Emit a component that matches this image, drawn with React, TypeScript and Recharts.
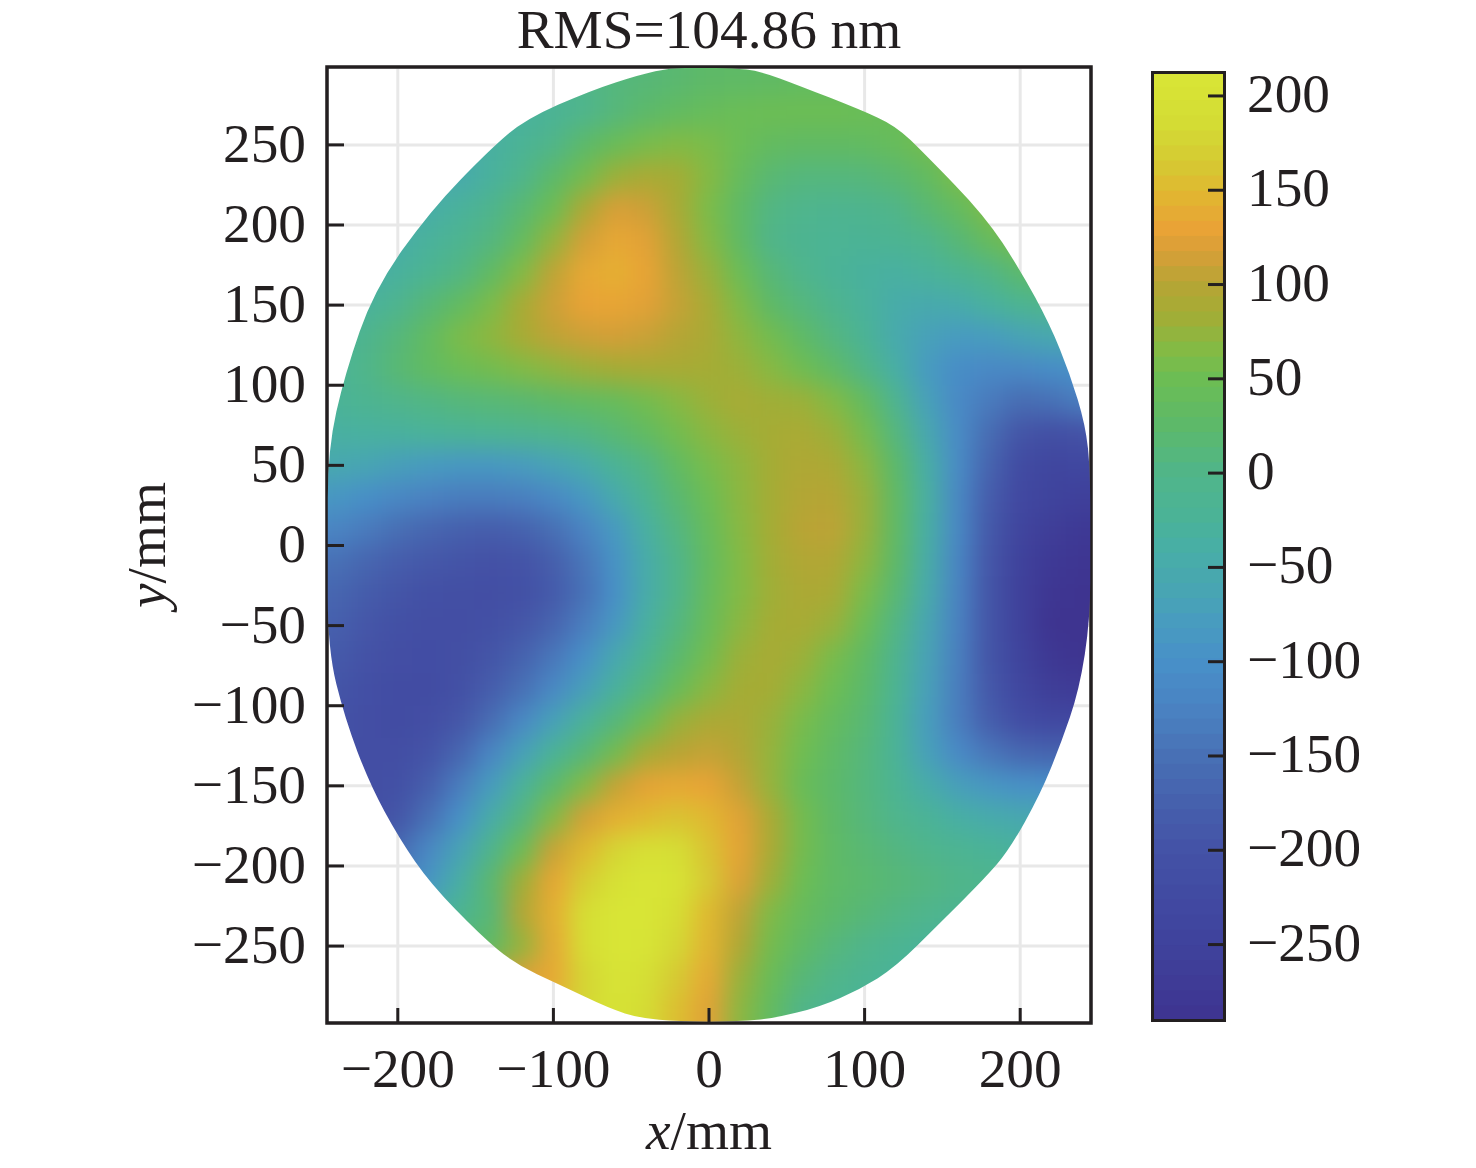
import React from "react";
import {
  ScatterChart,
  Scatter,
  XAxis,
  YAxis,
  CartesianGrid,
  ReferenceArea,
} from "recharts";

const INK = "#231f20";
const FONT = '"Liberation Serif", "Times New Roman", serif';
const FONT_SIZE = 55.3;

const xTicks = [-200, -100, 0, 100, 200];
const yTicks = [-250, -200, -150, -100, -50, 0, 50, 100, 150, 200, 250];
const barTicks = [-250, -200, -150, -100, -50, 0, 50, 100, 150, 200];

// grid centres in mm, surface height in nm
const gridX = [-240, -220, -200, -180, -160, -140, -120, -100, -80, -60, -40, -20, 0, 20, 40, 60, 80, 100, 120, 140, 160, 180, 200, 220, 240];
const gridY = [290, 270, 250, 230, 210, 190, 170, 150, 130, 110, 90, 70, 50, 30, 10, -10, -30, -50, -70, -90, -110, -130, -150, -170, -190, -210, -230, -250, -270, -290];
const heights = [
  [-30, -30, -30, -30, -30, -30, -20, -10, 0, 10, 15, 20, 28, 30, 32, 35, 35, 35, 35, 35, 35, 35, 35, 35, 35],
  [-40, -40, -40, -40, -40, -40, -30, -20, -5, 12, 25, 35, 42, 48, 50, 50, 50, 48, 45, 45, 45, 45, 45, 45, 45],
  [-50, -50, -50, -50, -45, -35, -20, 0, 25, 45, 58, 65, 60, 48, 36, 33, 33, 35, 42, 55, 60, 60, 60, 60, 60],
  [-55, -55, -55, -55, -50, -30, -5, 25, 55, 80, 90, 85, 66, 40, 18, 10, 10, 12, 20, 35, 60, 65, 65, 65, 65],
  [-55, -55, -50, -42, -28, -8, 18, 50, 92, 118, 112, 88, 60, 30, 5, -5, -10, -8, 0, 18, 38, 62, 75, 75, 75],
  [-55, -50, -42, -28, -12, 8, 38, 75, 115, 135, 125, 98, 66, 32, 0, -12, -18, -20, -15, -5, 15, 40, 58, 65, 65],
  [-50, -42, -30, -15, 5, 32, 65, 105, 135, 142, 130, 104, 78, 48, 14, -5, -22, -30, -35, -28, -15, 2, 22, 35, 35],
  [-40, -28, -10, 15, 35, 60, 88, 112, 130, 132, 125, 108, 88, 62, 28, 10, -8, -28, -45, -52, -48, -32, -15, -2, 5],
  [-25, -8, 12, 35, 60, 72, 88, 105, 112, 115, 110, 100, 90, 72, 55, 30, 8, -20, -50, -70, -80, -78, -65, -55, -50],
  [-18, -2, 18, 35, 48, 55, 64, 72, 80, 85, 88, 88, 85, 80, 68, 52, 30, 2, -38, -80, -105, -112, -112, -105, -100],
  [-22, -12, -2, 5, 12, 16, 20, 28, 35, 42, 55, 68, 80, 88, 82, 80, 65, 38, -10, -70, -110, -135, -155, -148, -130],
  [-35, -32, -30, -26, -22, -16, -10, -4, 5, 18, 35, 55, 70, 80, 86, 90, 80, 56, 10, -55, -108, -155, -195, -210, -200],
  [-55, -62, -72, -80, -85, -85, -78, -65, -48, -22, 5, 35, 58, 72, 85, 94, 92, 70, 25, -40, -108, -168, -222, -238, -235],
  [-88, -102, -115, -125, -132, -132, -128, -112, -85, -50, -15, 20, 50, 70, 85, 98, 100, 78, 32, -35, -112, -180, -230, -245, -255],
  [-120, -135, -152, -165, -175, -180, -172, -152, -122, -82, -35, 8, 42, 68, 85, 102, 104, 78, 32, -38, -112, -188, -240, -262, -275],
  [-148, -165, -180, -190, -197, -202, -198, -178, -142, -95, -45, 0, 38, 65, 84, 96, 96, 72, 28, -42, -118, -192, -250, -275, -285],
  [-165, -182, -195, -205, -210, -212, -205, -185, -148, -100, -45, 0, 40, 65, 82, 92, 90, 60, 18, -48, -122, -195, -252, -285, -295],
  [-175, -192, -205, -212, -212, -205, -192, -168, -130, -85, -35, 8, 45, 70, 85, 88, 78, 48, 5, -60, -125, -195, -250, -290, -298],
  [-185, -200, -212, -215, -210, -195, -172, -140, -100, -55, -15, 22, 55, 80, 88, 80, 58, 32, -8, -65, -128, -195, -245, -280, -292],
  [-195, -208, -218, -218, -205, -180, -150, -112, -72, -30, 10, 45, 70, 85, 85, 70, 50, 25, -15, -70, -130, -190, -235, -262, -270],
  [-200, -212, -218, -212, -192, -155, -112, -70, -28, 12, 50, 78, 92, 92, 78, 58, 38, 18, -22, -75, -130, -178, -215, -230, -230],
  [-205, -212, -212, -198, -165, -118, -70, -25, 15, 55, 88, 102, 108, 98, 75, 52, 30, 12, -22, -70, -110, -140, -162, -170, -170],
  [-205, -210, -205, -178, -132, -78, -28, 22, 65, 108, 128, 135, 130, 108, 75, 45, 25, 10, -15, -45, -72, -88, -98, -100, -100],
  [-200, -205, -195, -150, -100, -45, 8, 65, 115, 140, 152, 160, 150, 125, 90, 55, 28, 12, -5, -22, -38, -48, -55, -60, -60],
  [-190, -180, -160, -115, -65, -8, 48, 110, 150, 178, 198, 192, 160, 128, 90, 55, 30, 18, 8, -4, -14, -24, -30, -30, -30],
  [-170, -160, -135, -90, -40, 20, 82, 132, 170, 200, 212, 205, 165, 122, 80, 50, 30, 22, 15, 8, 0, -5, -10, -10, -10],
  [-100, -90, -70, -40, -15, 15, 98, 140, 190, 212, 212, 190, 150, 105, 62, 40, 25, 15, 5, -5, -12, -15, -15, -15, -15],
  [-50, -40, -20, 0, 20, 30, 75, 135, 190, 212, 208, 180, 145, 95, 55, 30, 12, -2, -15, -25, -30, -30, -30, -30, -30],
  [0, 10, 30, 50, 70, 100, 120, 135, 178, 208, 195, 165, 135, 78, 45, 15, 0, -15, -25, -30, -35, -35, -35, -35, -35],
  [50, 60, 70, 85, 100, 120, 135, 150, 180, 205, 185, 155, 125, 70, 35, 0, -15, -25, -30, -35, -35, -35, -35, -35, -35],
];

// wafer outline, clockwise from the top
const outlineX = [-44, -25, -6, 15, 33, 58, 97, 120, 139, 177, 200, 219, 232, 242, 245, 245, 245, 238, 226, 213, 193, 177, 148, 120, 97, 71, 42, 20, -20, -44, -64, -96, -125, -147, -179, -199, -218, -234, -245, -245, -245, -234, -215, -179, -141, -118, -76];
const outlineY = [294, 298, 298, 298, 296, 287, 272, 262, 244, 206, 172, 138, 107, 75, 47, 0, -46, -90, -124, -155, -190, -208, -236, -263, -277, -288, -295, -297, -297, -295, -289, -274, -261, -243, -211, -183, -149, -108, -65, 0, 60, 107, 160, 209, 247, 266, 284];

const barLevels = [-286, -278, -270, -262, -254, -246, -238, -230, -222, -214, -206, -198, -190, -182, -174, -166, -158, -150, -142, -134, -126, -118, -110, -102, -94, -86, -78, -70, -62, -54, -46, -38, -30, -22, -14, -6, 2, 10, 18, 26, 34, 42, 50, 58, 66, 74, 82, 90, 98, 106, 114, 122, 130, 138, 146, 154, 162, 170, 178, 186, 194, 202, 209];

const colorValues = [-290, -250, -225, -200, -175, -150, -125, -100, -80, -60, -40, -25, 0, 25, 50, 65, 85, 100, 118, 130, 150, 165, 185, 212];
const colorStops = ["#3e3490", "#3f429c", "#414aa2", "#4452a6", "#4660ad", "#4870b5", "#4a82c2", "#4890c8", "#489bc0", "#48a6b2", "#48aea6", "#4ab398", "#50b58a", "#5cb96a", "#6cbd54", "#82bb45", "#a5ac35", "#b5a535", "#d99e38", "#e9a336", "#e0b830", "#d5c933", "#d4dc34", "#d8e536"];

const cells = heights.flatMap((row, r) => row.map((v, c) => ({ x: gridX[c], y: gridY[r], v })));
const outline = outlineX.map((x, i) => ({ x, y: outlineY[i] }));
const barData = barLevels.map((v) => ({ x: 0, y: v, v }));

function hex(c: string) {
  return [1, 3, 5].map((i) => parseInt(c.slice(i, i + 2), 16));
}

function colorFor(v: number) {
  let i = 0;
  while (i < colorValues.length - 2 && v > colorValues[i + 1]) i++;
  const t = Math.min(1, Math.max(0, (v - colorValues[i]) / (colorValues[i + 1] - colorValues[i])));
  const a = hex(colorStops[i]);
  const b = hex(colorStops[i + 1]);
  return `rgb(${a.map((p, k) => Math.round(p + (b[k] - p) * t)).join(",")})`;
}

const minus = (v: number) => String(v).replace("-", "\u2212");

function XTick({ x, y, payload }: any) {
  return (
    <g>
      <line x1={x} x2={x} y1={y} y2={y - 15} stroke={INK} strokeWidth={3} />
      <text x={x} y={y + 64} textAnchor="middle" fontFamily={FONT} fontSize={FONT_SIZE} fill={INK}>
        {minus(payload.value)}
      </text>
    </g>
  );
}

function YTick({ x, y, payload }: any) {
  return (
    <g>
      <line x1={x} x2={x + 17} y1={y} y2={y} stroke={INK} strokeWidth={3} />
      <text x={x - 21} y={y + 17} textAnchor="end" fontFamily={FONT} fontSize={FONT_SIZE} fill={INK}>
        {minus(payload.value)}
      </text>
    </g>
  );
}

function BarTick({ x, y, payload }: any) {
  return (
    <g>
      <line x1={x} x2={x - 16} y1={y} y2={y} stroke={INK} strokeWidth={3} />
      <text x={x + 23} y={y + 16} textAnchor="start" fontFamily={FONT} fontSize={FONT_SIZE} fill={INK}>
        {minus(payload.value)}
      </text>
    </g>
  );
}

function AxisTitle({ letter, x, y, rotate }: any) {
  return (
    <text
      x={x}
      y={y}
      textAnchor="middle"
      fontFamily={FONT}
      fontSize={FONT_SIZE}
      fill={INK}
      transform={rotate ? `rotate(-90 ${x} ${y})` : undefined}
    >
      <tspan fontStyle="italic">{letter}</tspan>/mm
    </text>
  );
}

// border cells reach further out so the blur never fades inside the wafer
const CellShape = ({ cx, cy, v, payload }: any) => {
  const left = payload.x === gridX[0] ? 60 : 16;
  const right = payload.x === gridX[gridX.length - 1] ? 60 : 16;
  const top = payload.y === gridY[0] ? 60 : 16.5;
  const bottom = payload.y === gridY[gridY.length - 1] ? 60 : 16.5;
  return <rect x={cx - left} y={cy - top} width={left + right} height={top + bottom} fill={colorFor(v)} />;
};

const BarShape = ({ cx, cy, v }: any) => (
  <rect x={cx - 36} y={cy - 8} width={72} height={16} fill={colorFor(v)} />
);

// the outline series only supplies its scaled points to the clip path
const OutlineClip = ({ points }: any) => {
  const mid = (a: any, b: any) => `${(a.x + b.x) / 2},${(a.y + b.y) / 2}`;
  const n = points.length;
  let d = `M${mid(points[n - 1], points[0])}`;
  points.forEach((p: any, i: number) => {
    d += ` Q${p.x},${p.y} ${mid(p, points[(i + 1) % n])}`;
  });
  return (
    <clipPath id="waferClip">
      <path d={d + " Z"} />
    </clipPath>
  );
};

export default function App() {
  return (
    <div style={{ position: "absolute", left: 0, top: 0, width: 1476, height: 1168, background: "#fff" }}>
      <style>{`.wafer-cells { filter: url(#cellBlur); clip-path: url(#waferClip); }`}</style>
      <div style={{ position: "absolute", left: 0, top: 0 }}>
        <ScatterChart width={1476} height={1168} margin={{ top: 67, right: 385, bottom: 0, left: 0 }}>
          <defs>
            <filter id="cellBlur" x="-5%" y="-5%" width="110%" height="110%" colorInterpolationFilters="sRGB">
              <feGaussianBlur stdDeviation="12" />
            </filter>
          </defs>
          <CartesianGrid stroke="#e8e8e8" strokeWidth={3} />
          <XAxis
            type="number"
            dataKey="x"
            domain={[-245.5, 245.5]}
            ticks={xTicks}
            interval={0}
            height={145}
            tickSize={0}
            tickMargin={0}
            tickLine={false}
            axisLine={false}
            tick={<XTick />}
          />
          <YAxis
            type="number"
            dataKey="y"
            domain={[-298, 298.6]}
            ticks={yTicks}
            interval={0}
            width={327}
            tickSize={0}
            tickMargin={0}
            tickLine={false}
            axisLine={false}
            tick={<YTick />}
          />
          <Scatter
            data={outline}
            isAnimationActive={false}
            line={(props: any) => <OutlineClip {...props} />}
            shape={() => null}
          />
          <Scatter data={cells} className="wafer-cells" isAnimationActive={false} shape={<CellShape />} />
          <ReferenceArea x1={-245.5} x2={245.5} y1={-298} y2={298.6} fill="none" stroke={INK} strokeWidth={3.5} strokeOpacity={1} />
          <text x={709} y={48} textAnchor="middle" fontFamily={FONT} fontSize={FONT_SIZE} fill={INK}>
            RMS=104.86 nm
          </text>
          <AxisTitle letter="x" x={709} y={1149} />
          <AxisTitle letter="y" x={165} y={545} rotate />
        </ScatterChart>
      </div>
      <div style={{ position: "absolute", left: 0, top: 0 }}>
        <ScatterChart width={1476} height={1168} margin={{ top: 72, right: 0, bottom: 148, left: 1152 }}>
          <XAxis type="number" dataKey="x" domain={[-1, 1]} hide />
          <YAxis
            type="number"
            dataKey="y"
            orientation="right"
            domain={[-290, 212.7]}
            ticks={barTicks}
            interval={0}
            width={252}
            tickSize={0}
            tickMargin={0}
            tickLine={false}
            axisLine={false}
            tick={<BarTick />}
          />
          <Scatter data={barData} isAnimationActive={false} shape={<BarShape />} />
        </ScatterChart>
      </div>
      <div
        style={{
          position: "absolute",
          left: 1150.5,
          top: 70.5,
          width: 75,
          height: 951,
          boxSizing: "border-box",
          border: `3.5px solid ${INK}`,
        }}
      />
    </div>
  );
}
